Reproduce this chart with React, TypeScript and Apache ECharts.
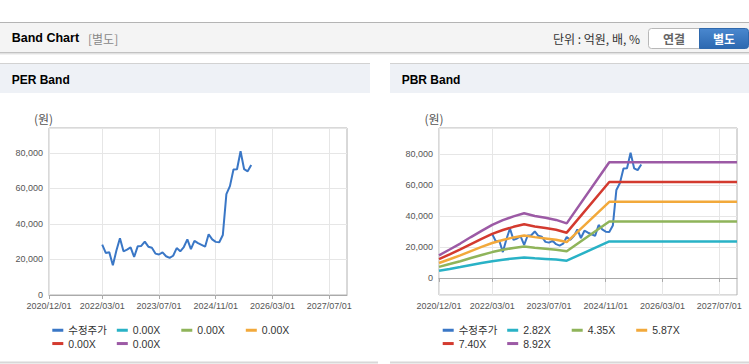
import { useEffect, useRef } from 'react';
import * as echarts from 'echarts';

const FONT = "'Liberation Sans', Arial, 'Noto Sans CJK KR', sans-serif";
const CJK = "'Noto Sans CJK KR', 'Liberation Sans', sans-serif";

// ---- axis ----
const axisStart = '2020/12/01';
const axisEnd = '2027/12/01';
const xTickLabels = ['2020/12/01', '2022/03/01', '2023/07/01', '2024/11/01', '2026/03/01', '2027/07/01'];

// ---- adjusted price (수정주가), monthly from 2022/03 ----
const priceStart = '2022/03/01';
const priceValues = [
  28300, 23700, 24000, 16700, 25000, 31900, 24600, 25500, 26800, 21400,
  27400, 27600, 30000, 27200, 26600, 23300, 22800, 24000, 21800, 20900,
  22100, 26400, 24600, 27000, 31300, 25800, 30500, 29200, 28200, 27200,
  34200, 31300, 29900, 29700, 33800, 56800, 61300, 70600, 70800, 80900,
  70800, 69600, 73200,
];

// ---- BPS knots used for PBR band ----
const bpsDates = [
  '2020/12/01', '2021/03/01', '2021/06/01', '2021/09/01', '2021/12/01',
  '2022/03/01', '2022/06/01', '2022/09/01', '2022/12/01', '2023/03/01',
  '2023/06/01', '2023/09/01', '2023/12/01', '2024/12/01', '2027/12/01',
];
const bpsValues = [
  1640, 2060, 2490, 2960, 3410,
  3840, 4180, 4460, 4680, 4490,
  4350, 4200, 3950, 8370, 8370,
];

// ---- multiples ----
const perMultiples = [0, 0, 0, 0, 0];
const pbrMultiples = [2.82, 4.35, 5.87, 7.4, 8.92];
const bandColors = ['#29b2c6', '#8fb45a', '#f2a93b', '#d33a2f', '#9c5aa5'];
const priceColor = '#3a77c6';

function monthRange(start: string, end: string): string[] {
  const [sy, sm] = start.split('/').map(Number);
  const [ey, em] = end.split('/').map(Number);
  const out: string[] = [];
  let y = sy;
  let m = sm;
  while (y < ey || (y === ey && m <= em)) {
    out.push(`${y}/${String(m).padStart(2, '0')}/01`);
    m++;
    if (m > 12) { m = 1; y++; }
  }
  return out;
}

const categories = monthRange(axisStart, axisEnd);
const tickSet = new Set(xTickLabels);
const priceIdx0 = categories.indexOf(priceStart);
const priceData = priceValues.map((v, k) => [priceIdx0 + k, v]);

const labelMap: Record<string, string> = { per_price: '수정주가', pbr_price: '수정주가' };
perMultiples.forEach((m, k) => { labelMap['per' + k] = m.toFixed(2) + 'X'; });
pbrMultiples.forEach((m, k) => { labelMap['pbr' + k] = m.toFixed(2) + 'X'; });

const GRIDS = [
  { left: 49, top: 128, width: 298, height: 167 },
  { left: 439, top: 128, width: 298, height: 167 },
];
const LEGEND_X = [52.3, 442.7];
const LEGEND_ROWS = [330, 343.3];
const LEGEND_COL = 64.5;

function buildOption() {
  const series: any[] = [];
  const legends: any[] = [];
  const xAxes: any[] = [];
  const yAxes: any[] = [];

  [0, 1].forEach((c) => {
    const prefix = c === 0 ? 'per' : 'pbr';
    const mults = c === 0 ? perMultiples : pbrMultiples;
    xAxes.push({
      type: 'category',
      gridIndex: c,
      data: categories,
      boundaryGap: false,
      axisLine: { show: true, lineStyle: { color: '#aaaaaa', width: 1 } },
      axisTick: { show: true, length: 4, interval: (_i: number, v: string) => tickSet.has(v), lineStyle: { color: '#aaaaaa' } },
      axisLabel: {
        interval: (_i: number, v: string) => tickSet.has(v),
        fontSize: 9, color: '#555555', margin: 6, fontFamily: FONT,
      },
      splitLine: { show: true, interval: (_i: number, v: string) => tickSet.has(v), lineStyle: { color: '#e6e6e6' } },
    });
    const fmt = (v: number) => (v % 20000 === 0 ? v.toLocaleString('en-US') : '');
    yAxes.push(
      c === 0
        ? {
            type: 'value', gridIndex: 0, min: 0, max: 94000, interval: 20000,
            axisLine: { show: false }, axisTick: { show: false },
            axisLabel: { formatter: fmt, fontSize: 9, color: '#555555', margin: 6, fontFamily: FONT, showMaxLabel: false },
            splitLine: { lineStyle: { color: '#e6e6e6' } },
          }
        : {
            type: 'value', gridIndex: 1, min: -11000, max: 96800, splitNumber: 5, minInterval: 20000, maxInterval: 20000,
            axisLine: { show: false }, axisTick: { show: false },
            axisLabel: { formatter: fmt, fontSize: 9, color: '#555555', margin: 6, fontFamily: FONT, showMaxLabel: false, showMinLabel: false },
            splitLine: { lineStyle: { color: '#e6e6e6' } },
          }
    );

    const names: string[] = [prefix + '_price'];
    series.push({
      type: 'line', name: prefix + '_price', xAxisIndex: c, yAxisIndex: c,
      data: priceData, showSymbol: false, symbol: 'none',
      lineStyle: { color: priceColor, width: 2 }, itemStyle: { color: priceColor },
    });
    mults.forEach((m, k) => {
      names.push(prefix + k);
      series.push({
        type: 'line', name: prefix + k, xAxisIndex: c, yAxisIndex: c,
        data: m > 0 ? bpsDates.map((d, j) => [categories.indexOf(d), Math.round(bpsValues[j] * m)]) : [],
        showSymbol: false, symbol: 'none',
        lineStyle: { color: bandColors[k], width: 2.5 }, itemStyle: { color: bandColors[k] },
      });
    });

    names.forEach((n, j) => {
      const row = j < 4 ? 0 : 1;
      const col = j < 4 ? j : j - 4;
      legends.push({
        data: [n],
        left: LEGEND_X[c] + col * LEGEND_COL,
        top: LEGEND_ROWS[row] - 5,
        padding: 0,
        itemWidth: 11,
        itemHeight: 3,
        icon: 'rect',
        selectedMode: false,
        formatter: (name: string) => labelMap[name],
        textStyle: { fontSize: 10.5, color: '#333333', fontFamily: FONT },
      });
    });
  });

  const t = (text: string, x: number, y: number, o: any = {}) => ({
    type: 'text', x, y, silent: true,
    style: {
      text, fontSize: o.fontSize || 12, fontWeight: o.fontWeight || 'normal', fill: o.fill || '#000',
      fontFamily: o.fontFamily || FONT,
      align: o.align || 'left', textAlign: o.align || 'left',
      verticalAlign: 'middle', textVerticalAlign: 'middle',
    },
  });
  const line = (x1: number, y1: number, x2: number, y2: number, color: string, w = 1) => ({
    type: 'line', silent: true, shape: { x1, y1, x2, y2 }, style: { stroke: color, lineWidth: w },
  });
  const rect = (x: number, y: number, width: number, height: number, fill: any, extra: any = {}) => ({
    type: 'rect', silent: true, shape: { x, y, width, height, r: extra.r || 0 },
    style: { fill, stroke: extra.stroke || null, lineWidth: extra.stroke ? 1 : 0 },
  });

  const graphic: any[] = [
    // top header
    rect(0, 22, 749, 30.5, '#f4f4f4'),
    line(0, 22.5, 749, 22.5, '#b4b4b4'),
    line(0, 52.5, 749, 52.5, '#c2c2c2'),
    line(0, 53.5, 749, 53.5, '#e2e2e2'),
    line(0, 54.5, 749, 54.5, '#f2f2f2'),
    t('Band Chart', 11.7, 38.3, { fontWeight: 'bold', fontSize: 12.5 }),
    t('[별도]', 88, 38.3, { fill: '#888888', fontFamily: CJK, fontSize: 12 }),
    t('단위 : 억원, 배, %', 640, 38.8, { align: 'right', fill: '#333333', fontFamily: CJK, fontSize: 12 }),
    rect(648.5, 28.5, 51, 20, '#ffffff', { stroke: '#b8b8b8', r: [3, 0, 0, 3] }),
    t('연결', 674, 38.5, { align: 'center', fontWeight: 'bold', fill: '#666666', fontFamily: CJK, fontSize: 12 }),
    rect(699.5, 28.5, 49, 20, {
      type: 'linear', x: 0, y: 0, x2: 0, y2: 1,
      colorStops: [{ offset: 0, color: '#4a88cf' }, { offset: 1, color: '#2c68b0' }],
    }, { stroke: '#2f69ad', r: [0, 3, 3, 0] }),
    t('별도', 724, 38.5, { align: 'center', fontWeight: 'bold', fill: '#ffffff', fontFamily: CJK, fontSize: 12 }),
    // panel headers
    rect(0, 64, 370, 29, '#eef1f6'),
    line(0, 63.5, 370, 63.5, '#d2d2d2'),
    t('PER Band', 11.7, 79.5, { fontWeight: 'bold', fontSize: 12 }),
    rect(390, 64, 359, 29, '#eef1f6'),
    line(390, 63.5, 749, 63.5, '#d2d2d2'),
    t('PBR Band', 401.7, 79.5, { fontWeight: 'bold', fontSize: 12 }),
    // unit labels
    t('(원)', 43.5, 118.3, { align: 'center', fill: '#555555', fontFamily: CJK, fontSize: 12 }),
    t('(원)', 434, 118.3, { align: 'center', fill: '#555555', fontFamily: CJK, fontSize: 12 }),
    // bottom borders
    line(0, 362.5, 378, 362.5, '#d8d8d8', 2),
    line(390, 362.5, 749, 362.5, '#d8d8d8', 2),
  ];

  return {
    animation: false,
    backgroundColor: '#ffffff',
    textStyle: { fontFamily: FONT },
    grid: GRIDS.map((g) => ({ ...g, show: true, borderColor: '#b2b2b2', borderWidth: 1, backgroundColor: 'transparent', containLabel: false })),
    xAxis: xAxes,
    yAxis: yAxes,
    legend: legends,
    series,
    graphic,
  };
}

export default function App() {
  const ref = useRef<HTMLDivElement>(null);
  useEffect(() => {
    if (!ref.current) return;
    const chart = echarts.init(ref.current, undefined, { renderer: 'svg' });
    chart.setOption(buildOption() as any);
    return () => chart.dispose();
  }, []);
  return (
    <div
      ref={ref}
      style={{ position: 'absolute', left: 0, top: 0, width: 749, height: 364, background: '#ffffff' }}
    />
  );
}
